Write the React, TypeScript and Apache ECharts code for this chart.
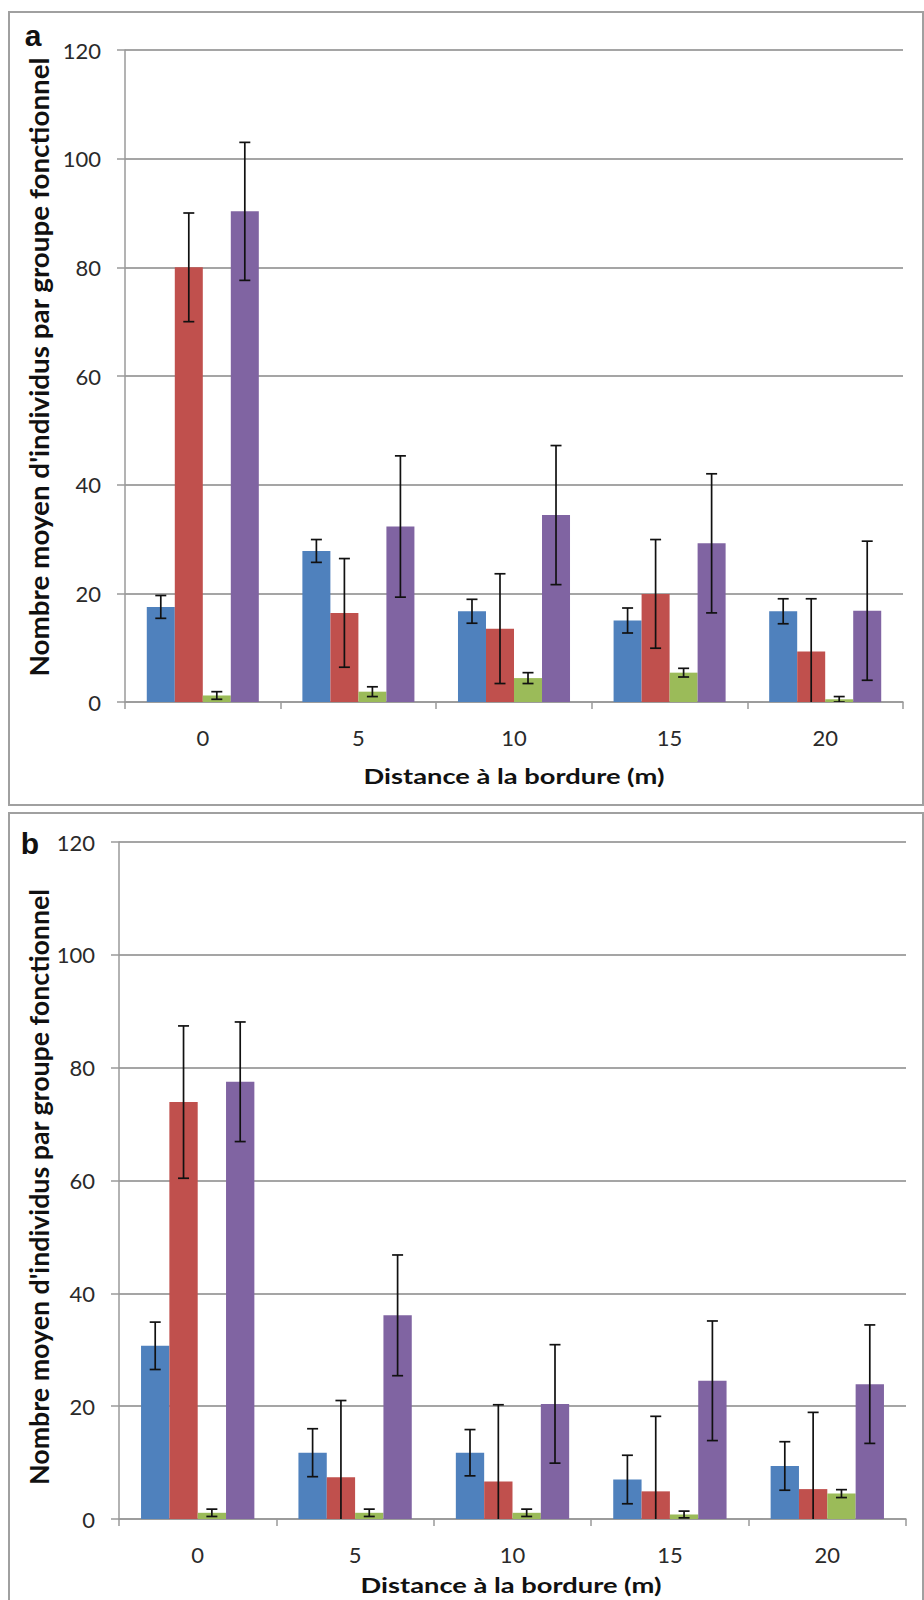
import React, { useEffect, useRef } from "react";
import * as echarts from "echarts";

const categories = ["0", "5", "10", "15", "20"];

const seriesNames = ["Groupe 1", "Groupe 2", "Groupe 3", "Groupe 4"];
const seriesColors = ["#4F81BD", "#C0504D", "#9BBB59", "#8064A2"];

// Panel a
const blueA = [17.5, 27.8, 16.7, 15.0, 16.7];
const errBlueA = [2.1, 2.1, 2.2, 2.3, 2.3];
const redA = [80.0, 16.4, 13.5, 19.9, 9.3];
const errRedA = [10.0, 10.0, 10.1, 10.0, 9.7];
const greenA = [1.2, 1.9, 4.4, 5.4, 0.5];
const errGreenA = [0.7, 0.9, 1.0, 0.8, 0.5];
const purpleA = [90.3, 32.3, 34.4, 29.2, 16.8];
const errPurpleA = [12.7, 13.0, 12.8, 12.8, 12.8];

// Panel b
const blueB = [30.7, 11.75, 11.75, 7.0, 9.4];
const errBlueB = [4.2, 4.25, 4.1, 4.3, 4.3];
const redB = [73.9, 7.4, 6.65, 4.9, 5.3];
const errRedB = [13.5, 13.6, 13.6, 13.3, 13.6];
const greenB = [1.1, 1.1, 1.1, 0.8, 4.5];
const errGreenB = [0.65, 0.65, 0.65, 0.6, 0.7];
const purpleB = [77.5, 36.1, 20.4, 24.5, 23.9];
const errPurpleB = [10.6, 10.7, 10.5, 10.6, 10.5];

const yTitle = "Nombre moyen d'individus par groupe fonctionnel";
const xTitle = "Distance à la bordure (m)";

const GAP = 0.28;
const FONT = "Lato, 'Open Sans', sans-serif";

export default function App() {
  const ref = useRef<HTMLDivElement>(null);
  useEffect(() => {
    if (!ref.current) return;
    const chart = echarts.init(ref.current, null, { renderer: "svg" });

    const panels = [
      { vals: [blueA, redA, greenA, purpleA], errs: [errBlueA, errRedA, errGreenA, errPurpleA] },
      { vals: [blueB, redB, greenB, purpleB], errs: [errBlueB, errRedB, errGreenB, errPurpleB] },
    ];

    const grids = [
      { left: 125, top: 50, width: 778, height: 652 },
      { left: 119, top: 842, width: 787, height: 677 },
    ];

    const xAxes = grids.map((_, gi) => ({
      type: "category",
      gridIndex: gi,
      data: categories,
      axisLine: { lineStyle: { color: "#9a9a9a", width: 1.5 } },
      axisTick: { show: true, length: 7, lineStyle: { color: "#9a9a9a", width: 1.5 } },
      axisLabel: { fontSize: 22, color: "#2a2a2a", fontFamily: FONT, margin: 24 },
    }));

    const yAxes = grids.map((_, gi) => ({
      type: "value",
      gridIndex: gi,
      min: 0,
      max: 120,
      interval: 20,
      axisLine: { show: true, lineStyle: { color: "#9a9a9a", width: 1.5 } },
      axisTick: { show: true, length: 8, lineStyle: { color: "#9a9a9a", width: 1.5 } },
      splitLine: { show: true, lineStyle: { color: "#a5a5a5", width: 2 } },
      axisLabel: { fontSize: 22, color: "#2a2a2a", fontFamily: FONT, margin: 24 },
    }));

    const series: any[] = [];
    panels.forEach((p, gi) => {
      p.vals.forEach((vals, si) => {
        series.push({
          type: "bar",
          name: seriesNames[si],
          xAxisIndex: gi,
          yAxisIndex: gi,
          data: vals,
          barGap: "0%",
          barCategoryGap: GAP * 100 + "%",
          itemStyle: { color: seriesColors[si] },
        });
      });
      p.vals.forEach((vals, si) => {
        const errs = p.errs[si];
        series.push({
          type: "custom",
          name: seriesNames[si] + " (erreur)",
          xAxisIndex: gi,
          yAxisIndex: gi,
          clip: true,
          z: 10,
          data: vals.map((v, i) => [i, v, errs[i]]),
          renderItem: (params: any, api: any) => {
            const ci = api.value(0);
            const v = api.value(1);
            const e = api.value(2);
            const catW = api.size([1, 0])[0];
            const barW = (catW * (1 - GAP)) / 4;
            const cx = api.coord([ci, v])[0] + (si - 1.5) * barW;
            const top = api.coord([ci, v + e])[1];
            const bot = api.coord([ci, v - e])[1];
            const cap = 5.5;
            const st = { stroke: "#111", lineWidth: 1.7 };
            return {
              type: "group",
              children: [
                { type: "line", shape: { x1: cx, y1: top, x2: cx, y2: bot }, style: st },
                { type: "line", shape: { x1: cx - cap, y1: top, x2: cx + cap, y2: top }, style: st },
                { type: "line", shape: { x1: cx - cap, y1: bot, x2: cx + cap, y2: bot }, style: st },
              ],
            };
          },
        });
      });
    });

    const frameStyle = { fill: "none", stroke: "#a0a0a0", lineWidth: 2 };
    const yTitleStyle = { fontSize: 26, fontWeight: "bold", fontFamily: FONT, fill: "#111" };
    const xTitleStyle = { fontSize: 21, fontWeight: "bold", fontFamily: FONT, fill: "#111" };
    const labelFont = "'Liberation Sans', Arial, sans-serif";

    chart.setOption({
      animation: false,
      grid: grids,
      xAxis: xAxes,
      yAxis: yAxes,
      series,
      graphic: [
        { type: "rect", shape: { x: 9, y: 12, width: 914, height: 793 }, style: frameStyle, silent: true },
        { type: "rect", shape: { x: 9, y: 813, width: 914, height: 800 }, style: frameStyle, silent: true },
        {
          type: "text", x: 33, y: 50,
          style: { text: "a", fontSize: 30, fontWeight: "bold", fontFamily: labelFont, fill: "#111", textAlign: "center", textVerticalAlign: "bottom" },
        },
        {
          type: "text", x: 30, y: 858,
          style: { text: "b", fontSize: 30, fontWeight: "bold", fontFamily: labelFont, fill: "#111", textAlign: "center", textVerticalAlign: "bottom" },
        },
        {
          type: "text", x: 39, y: 367, rotation: Math.PI / 2, scaleX: 1.07,
          style: { ...yTitleStyle, text: yTitle, textAlign: "center", textVerticalAlign: "middle" },
        },
        {
          type: "text", x: 39, y: 1187, rotation: Math.PI / 2, scaleX: 1.03,
          style: { ...yTitleStyle, text: yTitle, textAlign: "center", textVerticalAlign: "middle" },
        },
        {
          type: "text", x: 514, y: 776, scaleX: 1.3,
          style: { ...xTitleStyle, text: xTitle, textAlign: "center", textVerticalAlign: "middle" },
        },
        {
          type: "text", x: 511, y: 1585, scaleX: 1.3,
          style: { ...xTitleStyle, text: xTitle, textAlign: "center", textVerticalAlign: "middle" },
        },
      ],
    });
    return () => chart.dispose();
  }, []);
  return (
    <div
      ref={ref}
      style={{ position: "absolute", left: 0, top: 0, width: 924, height: 1600, background: "#fff" }}
    />
  );
}
